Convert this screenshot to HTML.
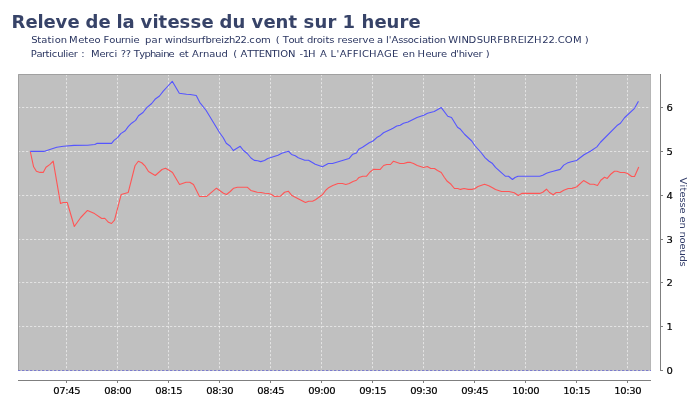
<!DOCTYPE html>
<html><head><meta charset="utf-8"><title>Releve de la vitesse du vent sur 1 heure</title>
<style>
html,body{margin:0;padding:0;background:#fff;}
svg{display:block;}
text{font-family:"DejaVu Sans","Liberation Sans",sans-serif;}
.t{font-weight:bold;font-size:18px;fill:#374368;}
.s{font-size:10px;fill:#2a3560;}
.k{font-size:10px;fill:#000;stroke:#000;stroke-width:0.2px;}
.a{font-size:10px;fill:#323d6a;}
</style></head><body>
<svg width="700" height="400" viewBox="0 0 700 400">
<rect width="700" height="400" fill="#fff"/>
<rect x="18" y="74" width="633" height="297" fill="#c0c0c0"/>
<path d="M66.5 74V371M117.5 74V371M168.5 74V371M219.5 74V371M270.5 74V371M321.5 74V371M372.5 74V371M423.5 74V371M474.5 74V371M525.5 74V371M576.5 74V371M627.5 74V371M18 326.5H651M18 282.5H651M18 239.5H651M18 195.5H651M18 151.5H651M18 107.5H651" stroke="#fff" stroke-width="0.55" stroke-dasharray="2.3 1.7" fill="none"/>
<path d="M650.5 74V371" fill="none" stroke="#b6b6b6" stroke-width="1"/>
<path d="M18.5 371V74.5H651" fill="none" stroke="#a0a0a0" stroke-width="1"/>
<path d="M18 370.5H651" stroke="#c8c8c8" stroke-width="1" fill="none"/>
<path d="M18 370.5H651" stroke="#5c5cd0" stroke-width="0.7" stroke-dasharray="2.4 1.6" fill="none"/>
<polyline points="30.3,151.5 33.6,166.8 36.4,171.2 40,172.4 43.2,172.4 46,167.2 50,164.4 53.2,161.2 60.5,203.55 63.2,202.5 67.25,202.5 74.3,226.5 80.75,217.5 87.5,210.45 94.55,213.6 101.75,218.55 104.75,218.25 108.5,222.3 111.5,223.5 114.5,220.2 121.2,194.45 128.25,192.45 135,165.75 138.3,161.25 141.75,162.75 145.2,166.2 148.5,171.45 155.25,175.5 162,169.5 165.45,168.3 169.05,170.25 172.5,172.5 179.55,184.5 186,182.25 189.75,182.25 193.5,184.5 199.5,196.45 206.7,196.45 216.45,188.2 223.5,193.3 226.5,194.5 230.25,191.5 233.7,188.2 237.3,187.3 247.5,187.3 250.8,190.45 257.25,192.25 261,192.55 264.75,193.3 268.5,193.45 271.5,194.5 274.5,196.45 280.5,196.15 284.55,192.25 288.3,191.2 291.9,195.55 305.45,202.45 308.75,201.25 312.5,201.25 315.5,199.75 322.25,194.8 326,190 329,187.45 332.75,185.5 338,183.55 342.5,183.55 345.8,184.45 349.25,183.55 353,181.45 356.45,180.25 359,177.45 362.75,176.2 366.4,176.3 370,172 373.45,169.35 380.2,169.45 383.65,165.5 386.7,164.45 390.5,164.5 393.5,161.2 400,163.45 403.75,163.45 407.5,162.4 410.5,162.4 413.5,163.45 417.25,165.4 423.55,167.5 427.3,166.45 430.75,168.55 434.5,168.55 437.5,170.5 441.25,172.45 444.25,177.25 447.25,181.3 451,184.3 454.45,188.5 457.75,188.5 460.45,189.4 464.05,188.5 468.25,189.4 472,189.4 475,188.5 478,186.55 484.5,184.25 488.75,185.75 492.5,187.7 495.5,189.5 501.5,191.45 509,191.45 514.25,192.8 518.3,195.5 521.75,193.4 539.75,193.4 542.75,192.2 546.5,189.2 549.5,192.5 553.25,194.75 556.25,192.5 560,192.5 563.75,190.25 568.25,188.45 572,188.35 576.5,187 583.55,180.55 590,184.3 593.75,184.3 597.5,185.5 600.8,180.25 604.55,177.25 607.25,178.45 611,173.95 614.45,171.25 617,171.25 620.45,172.45 624.5,172.45 627.5,173.5 631.7,176.5 634.55,176.5 638.75,167.05" fill="none" stroke="#ff5555" stroke-width="1.1" stroke-linejoin="round"/>
<polyline points="30.2,151.4 43.8,151.4 56.75,147.2 63.5,146.3 74.0,145.4 87.5,145.3 94.8,144.5 96.8,143.4 111.6,143.4 114,140.4 117.6,137.6 120.8,133.6 125.2,130.8 128.4,126.4 131.6,123.2 135.6,120.4 138.5,115.8 143,112.5 146.75,107.7 151.7,103.5 155,99.3 159.5,96 163.25,91.2 167.75,86.25 172.25,81.3 179.3,93.3 182.75,93.75 186.5,94.2 190.25,94.5 196.25,95.55 199.7,102.3 206,110.25 219.5,132.5 223.25,137.75 226.25,143.3 230,146 233.3,150.5 240.2,146.3 243.5,150.5 247.25,153.5 251,158 254.3,160.4 257.75,160.7 260.75,161.6 264.5,160.55 267.8,158.45 278,155.3 281.75,153.2 288.5,151.25 291.5,154.4 295.25,155.75 298.25,157.7 304.75,160.2 308.5,160.2 315.25,164.25 322.45,166.65 328.3,163.5 332.5,163.5 349,158.55 352.75,154.2 356.5,153 358.75,149.25 362.5,147.3 369.25,142.8 373,141 376.75,137.55 380.5,135.45 383.5,132.75 391,129.3 393,128.25 396.75,126 400.2,125.25 403.5,123.3 408,121.95 417,117.45 423.75,115.2 427.5,113.25 434.25,111.45 441.3,107.55 447.75,116.25 451.5,117.45 457.5,127.2 460.5,129.3 464.55,134.25 471.75,141 474.75,145.5 481.25,152.75 485,157.7 488.75,161 492.5,163.55 495.5,167.45 505.55,176.3 508.55,176.3 512.45,179.45 515,177.5 518,176.3 539.75,176.3 542.75,175.25 546.5,173.3 549.5,172.25 553.25,171.2 560.2,169.35 563.75,165.15 567.2,163.1 571.25,161.8 576.5,160.45 584,154.75 590.75,151 596.9,146.85 600.5,142.25 617,125.55 620.45,123.3 624.5,117.75 634.55,108.3 638.45,101.25" fill="none" stroke="#5555ff" stroke-width="1.1" stroke-linejoin="round"/>
<path d="M18 380.5H651M66.5 381V383M117.5 381V383M168.5 381V383M219.5 381V383M270.5 381V383M321.5 381V383M372.5 381V383M423.5 381V383M474.5 381V383M525.5 381V383M576.5 381V383M627.5 381V383M660.5 74V371M661 370.5H663M661 326.5H663M661 282.5H663M661 239.5H663M661 195.5H663M661 151.5H663M661 107.5H663" stroke="#7f7f7f" stroke-width="1" fill="none"/>
<g transform="translate(0,394.1) scale(1,0.92)">
<text class="k" x="53.3 59.3 65.3 68.3 74.3" y="0">07:45</text>
<text class="k" x="104.3 110.3 116.3 119.3 125.3" y="0">08:00</text>
<text class="k" x="155.3 161.3 167.3 170.3 176.3" y="0">08:15</text>
<text class="k" x="206.3 212.3 218.3 221.3 227.3" y="0">08:30</text>
<text class="k" x="257.3 263.3 269.3 272.3 278.3" y="0">08:45</text>
<text class="k" x="308.3 314.3 320.3 323.3 329.3" y="0">09:00</text>
<text class="k" x="359.3 365.3 371.3 374.3 380.3" y="0">09:15</text>
<text class="k" x="410.3 416.3 422.3 425.3 431.3" y="0">09:30</text>
<text class="k" x="461.3 467.3 473.3 476.3 482.3" y="0">09:45</text>
<text class="k" x="512.3 518.3 524.3 527.3 533.3" y="0">10:00</text>
<text class="k" x="563.3 569.3 575.3 578.3 584.3" y="0">10:15</text>
<text class="k" x="614.3 620.3 626.3 629.3 635.3" y="0">10:30</text>
</g>
<text class="k" transform="translate(666.5,374.1) scale(1,0.92)">0</text>
<text class="k" transform="translate(666.5,330.1) scale(1,0.92)">1</text>
<text class="k" transform="translate(666.5,286.1) scale(1,0.92)">2</text>
<text class="k" transform="translate(666.5,243.1) scale(1,0.92)">3</text>
<text class="k" transform="translate(666.5,199.1) scale(1,0.92)">4</text>
<text class="k" transform="translate(666.5,155.1) scale(1,0.92)">5</text>
<text class="k" transform="translate(666.5,111.1) scale(1,0.92)">6</text>
<text class="a" transform="translate(679.8,177.5) rotate(90) scale(1,0.92)" x="0.0 7.0 10.0 14.0 20.0 25.0 30.0 36.0 39.0 45.0 51.0 54.0 60.0 66.0 72.0 78.0 84.0" y="0">Vitesse en noeuds</text>
<text class="t" transform="translate(0,27.6) scale(1,0.95)" x="11.6 25.6 37.6 43.6 55.6 67.6 79.6 85.6 98.6 110.6 116.6 122.6 134.6 140.6 152.6 158.6 167.6 179.6 190.6 201.6 213.6 219.6 232.6 245.6 251.6 263.6 275.6 288.6 297.6 303.6 314.6 327.6 336.6 342.6 355.6 361.6 374.6 386.6 399.6 408.6" y="0">Releve de la vitesse du vent sur 1 heure</text>
<g transform="translate(0,43) scale(1,0.92)">
<text class="s" x="31.14 37.26 41.38 47.50 51.61 54.73 60.85" y="0">Station</text>
<text class="s" x="69.02 78.15 84.28 88.41 94.55" y="0">Meteo</text>
<text class="s" x="103.52 109.35 115.19 121.03 124.86 130.70 133.53" y="0">Fournie</text>
<text class="s" x="145.09 151.55 158.00" y="0">par</text>
<text class="s" x="164.78 172.64 175.49 181.35 187.21 192.06 197.92 201.77 205.63 211.49 215.34 221.20 224.06 228.91 234.77 240.62 246.48 249.34 255.19 261.05" y="0">windsurfbreizh22.com</text>
<text class="s" x="275.64" y="0">(</text>
<text class="s" x="282.83 288.47 294.10 299.74" y="0">Tout</text>
<text class="s" x="307.05 312.90 316.74 322.59 325.44 329.29" y="0">droits</text>
<text class="s" x="337.59 341.58 347.57 352.56 358.55 362.54 368.53" y="0">reserve</text>
<text class="s" x="376.90" y="0">a</text>
<text class="s" x="386.06 388.79 391.52 398.26 402.99 407.72 413.45 419.19 421.92 427.65 431.38 434.12 439.85" y="0">l&#39;Association</text>
<text class="s" x="448.17 458.32 461.46 468.61 476.76 482.91 490.05 497.20 503.35 510.50 517.65 523.79 526.94 534.09 542.24 548.39 554.53 557.68 564.83 572.98" y="0">WINDSURFBREIZH22.COM</text>
<text class="s" x="584.70" y="0">)</text>
</g>
<g transform="translate(0,56.8) scale(1,0.92)">
<text class="s" x="30.82 36.41 41.99 45.58 49.17 51.76 57.35 62.94 65.52 68.11 73.70" y="0">Particulier</text>
<text class="s" x="81.33" y="0">:</text>
<text class="s" x="91.02 99.62 105.23 108.83 114.44" y="0">Merci</text>
<text class="s" x="120.78 125.70" y="0">??</text>
<text class="s" x="133.83 139.22 144.60 149.99 155.37 160.76 163.15 168.53" y="0">Typhaine</text>
<text class="s" x="178.95 184.74" y="0">et</text>
<text class="s" x="191.92 199.02 203.12 209.21 215.31 221.41" y="0">Arnaud</text>
<text class="s" x="233.14" y="0">(</text>
<text class="s" x="240.42 247.24 253.06 258.88 264.70 271.52 277.34 280.16 287.98" y="0">ATTENTION</text>
<text class="s" x="299.51 302.75 307.98" y="0">-1H</text>
<text class="s" x="319.92" y="0">A</text>
<text class="s" x="330.52 336.58 339.64 346.70 352.77 358.83 361.89 368.95 377.02 384.08 392.14" y="0">L&#39;AFFICHAGE</text>
<text class="s" x="402.45 408.85" y="0">en</text>
<text class="s" x="417.52 425.40 431.28 437.15 441.03" y="0">Heure</text>
<text class="s" x="450.45 456.12 458.80 464.47 467.15 472.82 478.50" y="0">d&#39;hiver</text>
<text class="s" x="485.70" y="0">)</text>
</g>
</svg>
</body></html>
